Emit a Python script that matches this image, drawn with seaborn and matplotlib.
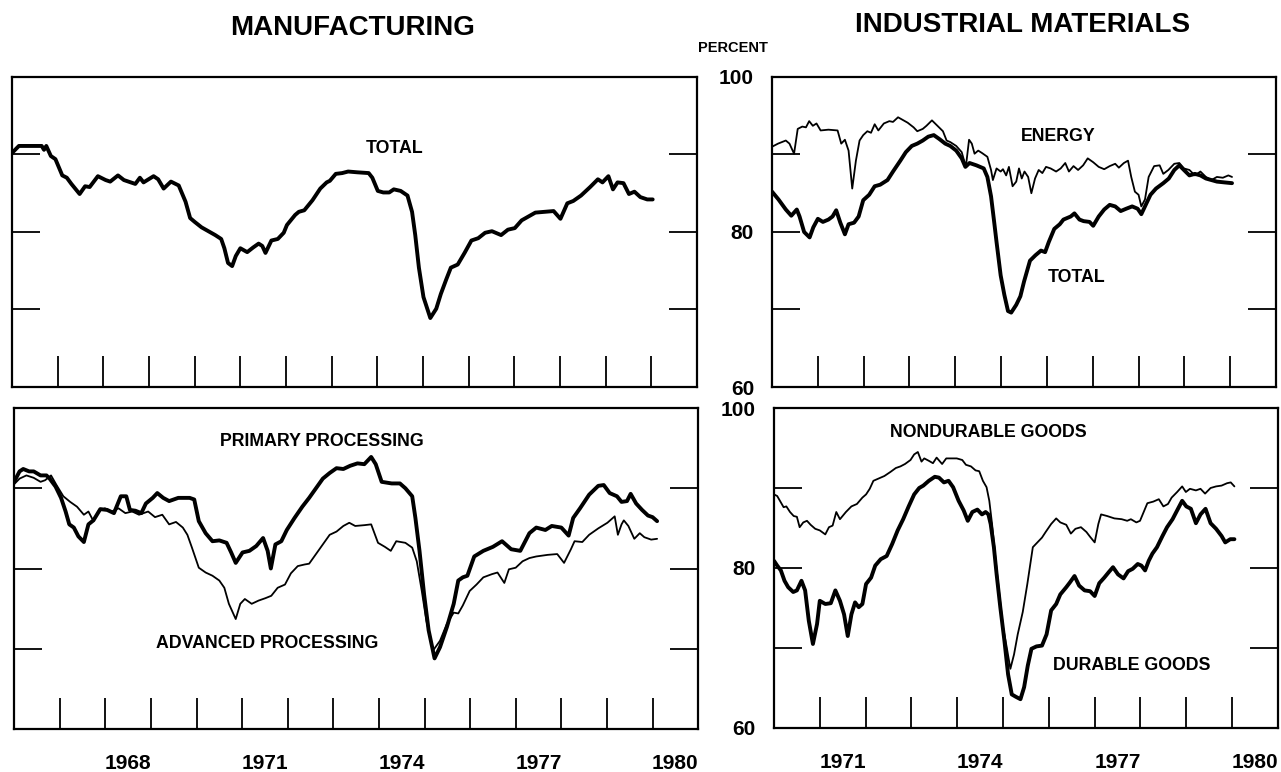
import matplotlib
matplotlib.use("Agg")
import matplotlib.pyplot as plt
import seaborn as sns
import pandas as pd

sns.set_style("ticks")
plt.rcParams["font.family"] = ["Liberation Sans", "DejaVu Sans"]
plt.rcParams["font.weight"] = "bold"
plt.rcParams["text.color"] = "black"
plt.rcParams["xtick.color"] = "black"
plt.rcParams["ytick.color"] = "black"
plt.rcParams["axes.edgecolor"] = "black"

# capacity utilization, percent (year, value)
mfg_total = [
    (1966.00, 90.2), (1966.15, 91.1), (1966.30, 91.1), (1966.65, 91.1), (1966.70, 90.6),
    (1966.75, 91.1), (1966.85, 89.8), (1966.95, 89.4), (1967.10, 87.3), (1967.20, 87.0),
    (1967.30, 86.2), (1967.48, 84.9), (1967.60, 85.9), (1967.70, 85.8), (1967.88, 87.2),
    (1968.05, 86.7), (1968.15, 86.5), (1968.32, 87.3), (1968.45, 86.7), (1968.60, 86.4),
    (1968.70, 86.2), (1968.80, 87.0), (1968.88, 86.4), (1969.10, 87.2), (1969.20, 86.8),
    (1969.32, 85.6), (1969.48, 86.5), (1969.65, 86.0), (1969.80, 83.9), (1969.90, 81.8),
    (1970.00, 81.3), (1970.15, 80.6), (1970.30, 80.1), (1970.45, 79.6), (1970.58, 79.1),
    (1970.65, 77.9), (1970.73, 76.0), (1970.82, 75.6), (1970.90, 76.9), (1971.00, 77.9),
    (1971.15, 77.4), (1971.28, 78.0), (1971.40, 78.5), (1971.48, 78.2), (1971.55, 77.3),
    (1971.68, 78.9), (1971.82, 79.1), (1971.95, 79.9), (1972.02, 80.9), (1972.20, 82.2),
    (1972.28, 82.6), (1972.40, 82.8), (1972.58, 84.1), (1972.75, 85.6), (1972.89, 86.4),
    (1972.96, 86.6), (1973.09, 87.5), (1973.23, 87.6), (1973.36, 87.8), (1973.56, 87.7),
    (1973.81, 87.6), (1973.89, 87.0), (1974.01, 85.3), (1974.13, 85.1), (1974.26, 85.1),
    (1974.36, 85.5), (1974.51, 85.3), (1974.66, 84.7), (1974.76, 82.6), (1974.83, 79.6),
    (1974.91, 75.4), (1975.01, 71.6), (1975.16, 68.9), (1975.29, 70.1), (1975.39, 72.0),
    (1975.51, 73.9), (1975.61, 75.4), (1975.76, 75.8), (1975.91, 77.3), (1976.06, 78.9),
    (1976.21, 79.2), (1976.36, 79.9), (1976.51, 80.1), (1976.71, 79.6), (1976.86, 80.3),
    (1977.01, 80.5), (1977.16, 81.5), (1977.31, 82.0), (1977.46, 82.5), (1977.66, 82.6),
    (1977.86, 82.7), (1978.01, 81.7), (1978.16, 83.7), (1978.29, 84.0), (1978.46, 84.7),
    (1978.66, 85.8), (1978.83, 86.8), (1978.93, 86.4), (1979.06, 87.2), (1979.16, 85.5),
    (1979.26, 86.4), (1979.39, 86.3), (1979.51, 84.9), (1979.63, 85.2), (1979.76, 84.5),
    (1979.91, 84.2), (1980.03, 84.2),
]

mfg_primary = [
    (1966.00, 90.8), (1966.12, 92.1), (1966.20, 92.4), (1966.33, 92.1), (1966.43, 92.1),
    (1966.58, 91.6), (1966.71, 91.6), (1966.78, 91.2), (1966.91, 90.2), (1967.03, 88.8),
    (1967.13, 87.1), (1967.21, 85.5), (1967.31, 85.1), (1967.41, 84.0), (1967.53, 83.3),
    (1967.63, 85.5), (1967.74, 86.0), (1967.89, 87.4), (1968.04, 87.3), (1968.19, 86.9),
    (1968.34, 89.0), (1968.46, 89.0), (1968.54, 87.3), (1968.66, 87.2), (1968.79, 86.9),
    (1968.89, 88.1), (1969.04, 88.8), (1969.14, 89.4), (1969.27, 88.8), (1969.40, 88.4),
    (1969.60, 88.8), (1969.85, 88.8), (1969.95, 88.6), (1970.05, 85.9), (1970.20, 84.4),
    (1970.35, 83.4), (1970.50, 83.5), (1970.66, 83.2), (1970.76, 82.0), (1970.86, 80.7),
    (1971.01, 82.0), (1971.16, 82.2), (1971.31, 82.8), (1971.46, 83.8), (1971.56, 82.2),
    (1971.63, 80.0), (1971.73, 83.0), (1971.86, 83.4), (1971.98, 84.8), (1972.15, 86.3),
    (1972.32, 87.7), (1972.47, 88.8), (1972.62, 90.0), (1972.77, 91.2), (1972.92, 91.9),
    (1973.07, 92.5), (1973.22, 92.4), (1973.37, 92.8), (1973.53, 93.1), (1973.68, 93.0),
    (1973.83, 93.9), (1973.93, 93.0), (1974.06, 90.8), (1974.28, 90.6), (1974.46, 90.6),
    (1974.58, 90.0), (1974.73, 89.0), (1974.80, 86.3), (1974.89, 82.2), (1974.99, 76.8),
    (1975.09, 72.3), (1975.22, 68.8), (1975.34, 70.2), (1975.49, 72.7), (1975.64, 75.6),
    (1975.74, 78.5), (1975.84, 78.9), (1975.94, 79.1), (1976.09, 81.5), (1976.29, 82.2),
    (1976.50, 82.7), (1976.70, 83.4), (1976.90, 82.4), (1977.10, 82.2), (1977.30, 84.4),
    (1977.45, 85.1), (1977.65, 84.8), (1977.79, 85.3), (1978.00, 85.1), (1978.16, 84.1),
    (1978.26, 86.3), (1978.41, 87.5), (1978.61, 89.2), (1978.81, 90.3), (1978.93, 90.4),
    (1979.06, 89.4), (1979.22, 89.0), (1979.32, 88.3), (1979.44, 88.4), (1979.52, 89.3),
    (1979.64, 88.1), (1979.77, 87.3), (1979.90, 86.6), (1980.00, 86.4), (1980.10, 85.9),
]

mfg_advanced = [
    (1966.00, 90.5), (1966.12, 91.2), (1966.27, 91.6), (1966.43, 91.3), (1966.58, 90.8),
    (1966.68, 91.0), (1966.81, 91.6), (1966.93, 90.4), (1967.08, 89.0), (1967.23, 88.3),
    (1967.38, 87.7), (1967.53, 86.7), (1967.63, 87.1), (1967.74, 85.9), (1967.84, 87.1),
    (1967.99, 87.5), (1968.14, 87.1), (1968.29, 87.5), (1968.44, 86.9), (1968.59, 87.1),
    (1968.74, 86.7), (1968.94, 87.1), (1969.09, 86.4), (1969.25, 86.7), (1969.40, 85.5),
    (1969.55, 85.8), (1969.70, 85.1), (1969.80, 84.2), (1969.90, 82.6), (1970.05, 80.1),
    (1970.20, 79.5), (1970.35, 79.1), (1970.50, 78.5), (1970.61, 77.6), (1970.71, 75.6),
    (1970.86, 73.7), (1970.96, 75.6), (1971.06, 76.2), (1971.21, 75.6), (1971.36, 76.0),
    (1971.51, 76.3), (1971.64, 76.6), (1971.78, 77.6), (1971.94, 78.0), (1972.07, 79.4),
    (1972.22, 80.3), (1972.37, 80.5), (1972.47, 80.6), (1972.62, 81.8), (1972.77, 83.0),
    (1972.92, 84.2), (1973.07, 84.6), (1973.22, 85.3), (1973.35, 85.7), (1973.48, 85.3),
    (1973.68, 85.4), (1973.83, 85.5), (1973.98, 83.2), (1974.13, 82.7), (1974.26, 82.2),
    (1974.38, 83.4), (1974.58, 83.2), (1974.73, 82.6), (1974.83, 80.9), (1974.94, 77.2),
    (1975.04, 73.5), (1975.19, 69.8), (1975.34, 71.0), (1975.49, 73.1), (1975.64, 74.5),
    (1975.74, 74.4), (1975.84, 75.4), (1975.99, 77.2), (1976.14, 78.0), (1976.29, 78.9),
    (1976.48, 79.3), (1976.60, 79.5), (1976.75, 78.2), (1976.85, 79.9), (1977.00, 80.1),
    (1977.15, 80.9), (1977.30, 81.3), (1977.45, 81.5), (1977.70, 81.7), (1977.91, 81.8),
    (1978.06, 80.7), (1978.21, 82.4), (1978.29, 83.4), (1978.46, 83.3), (1978.61, 84.2),
    (1978.81, 85.0), (1979.01, 85.7), (1979.17, 86.5), (1979.24, 84.2), (1979.32, 85.5),
    (1979.37, 86.0), (1979.47, 85.3), (1979.60, 83.7), (1979.72, 84.4), (1979.82, 83.9),
    (1979.97, 83.6), (1980.10, 83.7),
]

mat_total = [
    (1970.00, 85.2), (1970.14, 84.2), (1970.30, 82.9), (1970.42, 82.1), (1970.54, 82.9),
    (1970.60, 82.0), (1970.70, 80.0), (1970.82, 79.3), (1970.90, 80.6), (1971.00, 81.7),
    (1971.11, 81.3), (1971.23, 81.6), (1971.32, 82.0), (1971.40, 82.8), (1971.49, 81.2),
    (1971.59, 79.7), (1971.67, 81.0), (1971.79, 81.2), (1971.89, 82.0), (1971.99, 84.1),
    (1972.12, 84.8), (1972.24, 85.9), (1972.36, 86.1), (1972.52, 86.7), (1972.64, 87.8),
    (1972.80, 89.2), (1972.92, 90.3), (1973.05, 91.1), (1973.17, 91.4), (1973.29, 91.8),
    (1973.41, 92.3), (1973.53, 92.5), (1973.65, 92.0), (1973.78, 91.4), (1973.89, 91.1),
    (1974.02, 90.5), (1974.14, 89.5), (1974.22, 88.4), (1974.31, 88.9), (1974.46, 88.6),
    (1974.62, 88.2), (1974.70, 87.1), (1974.78, 84.6), (1974.85, 81.2), (1974.90, 78.7),
    (1974.99, 74.4), (1975.07, 71.9), (1975.15, 69.8), (1975.22, 69.6), (1975.33, 70.6),
    (1975.42, 71.7), (1975.50, 73.6), (1975.63, 76.3), (1975.75, 77.0), (1975.87, 77.6),
    (1975.96, 77.4), (1976.04, 78.7), (1976.16, 80.4), (1976.28, 81.0), (1976.36, 81.6),
    (1976.52, 82.0), (1976.60, 82.4), (1976.71, 81.6), (1976.80, 81.4), (1976.93, 81.3),
    (1977.01, 80.8), (1977.13, 82.0), (1977.25, 82.9), (1977.37, 83.5), (1977.49, 83.3),
    (1977.61, 82.7), (1977.73, 83.0), (1977.86, 83.3), (1977.98, 83.0), (1978.06, 82.3),
    (1978.14, 83.3), (1978.26, 84.8), (1978.38, 85.6), (1978.54, 86.3), (1978.66, 86.9),
    (1978.78, 88.0), (1978.89, 88.6), (1978.99, 88.0), (1979.11, 87.3), (1979.23, 87.5),
    (1979.35, 87.3), (1979.47, 86.9), (1979.59, 86.7), (1979.71, 86.5), (1979.87, 86.4),
    (1980.04, 86.3),
]

mat_energy = [
    (1970.00, 91.0), (1970.13, 91.4), (1970.30, 91.8), (1970.38, 91.4), (1970.48, 90.1),
    (1970.56, 93.3), (1970.66, 93.6), (1970.74, 93.5), (1970.81, 94.3), (1970.89, 93.7),
    (1970.97, 94.0), (1971.06, 93.1), (1971.23, 93.2), (1971.43, 93.1), (1971.51, 91.4),
    (1971.59, 91.9), (1971.67, 90.5), (1971.75, 85.6), (1971.83, 89.2), (1971.91, 91.8),
    (1971.99, 92.5), (1972.08, 93.0), (1972.16, 92.8), (1972.24, 93.9), (1972.32, 93.1),
    (1972.44, 94.0), (1972.56, 94.3), (1972.64, 94.2), (1972.75, 94.8), (1972.84, 94.5),
    (1972.96, 94.1), (1973.09, 93.5), (1973.17, 93.0), (1973.29, 93.3), (1973.37, 93.7),
    (1973.49, 94.4), (1973.61, 93.7), (1973.73, 93.0), (1973.81, 91.8), (1973.89, 91.6),
    (1974.02, 91.1), (1974.14, 90.3), (1974.23, 88.4), (1974.30, 91.9), (1974.36, 91.4),
    (1974.42, 90.1), (1974.50, 90.5), (1974.58, 90.2), (1974.70, 89.7), (1974.78, 88.0),
    (1974.82, 86.7), (1974.90, 88.2), (1974.99, 87.8), (1975.04, 88.1), (1975.11, 87.3),
    (1975.17, 88.4), (1975.25, 85.9), (1975.33, 86.5), (1975.39, 88.2), (1975.45, 86.9),
    (1975.51, 87.8), (1975.59, 87.1), (1975.66, 85.0), (1975.74, 86.9), (1975.82, 88.0),
    (1975.90, 87.6), (1975.98, 88.4), (1976.08, 88.2), (1976.20, 87.8), (1976.30, 88.2),
    (1976.40, 88.9), (1976.48, 87.8), (1976.58, 88.5), (1976.68, 88.0), (1976.79, 88.6),
    (1976.89, 89.5), (1977.01, 89.0), (1977.13, 88.4), (1977.25, 88.1), (1977.37, 88.5),
    (1977.49, 88.8), (1977.57, 88.3), (1977.68, 88.9), (1977.77, 89.2), (1977.84, 87.1),
    (1977.92, 85.2), (1978.00, 84.8), (1978.06, 83.3), (1978.14, 84.2), (1978.22, 87.1),
    (1978.34, 88.5), (1978.46, 88.6), (1978.54, 87.5), (1978.65, 88.0), (1978.78, 88.8),
    (1978.89, 88.9), (1978.99, 88.2), (1979.11, 88.0), (1979.23, 87.3), (1979.35, 87.8),
    (1979.47, 87.1), (1979.59, 86.7), (1979.71, 87.1), (1979.84, 87.0), (1979.96, 87.3),
    (1980.04, 87.1),
]

mat_nondurable = [
    (1970.00, 89.2), (1970.07, 89.0), (1970.15, 88.2), (1970.21, 87.6), (1970.27, 87.7),
    (1970.35, 87.0), (1970.43, 86.5), (1970.50, 86.4), (1970.56, 85.1), (1970.64, 85.7),
    (1970.72, 85.9), (1970.80, 85.4), (1970.90, 84.9), (1971.00, 84.7), (1971.12, 84.2),
    (1971.20, 85.1), (1971.28, 85.3), (1971.36, 87.0), (1971.44, 86.1), (1971.57, 87.0),
    (1971.69, 87.7), (1971.81, 88.0), (1971.93, 88.8), (1972.01, 89.2), (1972.09, 89.9),
    (1972.17, 90.9), (1972.29, 91.2), (1972.41, 91.5), (1972.54, 92.0), (1972.66, 92.5),
    (1972.76, 92.7), (1972.86, 93.0), (1972.98, 93.5), (1973.06, 94.2), (1973.14, 94.5),
    (1973.22, 93.3), (1973.28, 93.7), (1973.38, 93.4), (1973.47, 93.1), (1973.55, 93.8),
    (1973.67, 93.0), (1973.76, 93.7), (1973.87, 93.7), (1973.99, 93.7), (1974.11, 93.5),
    (1974.19, 92.9), (1974.30, 92.7), (1974.40, 92.2), (1974.48, 92.1), (1974.56, 90.9),
    (1974.64, 90.1), (1974.70, 88.4), (1974.76, 85.5), (1974.84, 80.9), (1974.92, 76.7),
    (1975.00, 72.6), (1975.08, 70.1), (1975.16, 67.4), (1975.24, 69.2), (1975.32, 71.7),
    (1975.43, 74.5), (1975.53, 78.0), (1975.65, 82.6), (1975.75, 83.2), (1975.85, 83.8),
    (1975.93, 84.5), (1976.05, 85.5), (1976.16, 86.2), (1976.25, 85.7), (1976.38, 85.4),
    (1976.48, 84.3), (1976.58, 84.9), (1976.70, 85.1), (1976.82, 84.5), (1976.90, 83.9),
    (1977.00, 83.2), (1977.08, 85.5), (1977.14, 86.7), (1977.27, 86.5), (1977.43, 86.2),
    (1977.59, 86.1), (1977.71, 85.9), (1977.79, 86.1), (1977.91, 85.7), (1977.99, 85.9),
    (1978.07, 87.0), (1978.15, 88.1), (1978.28, 88.3), (1978.40, 88.6), (1978.50, 87.7),
    (1978.60, 88.0), (1978.68, 88.8), (1978.80, 89.5), (1978.91, 90.2), (1978.99, 89.5),
    (1979.08, 89.9), (1979.21, 89.7), (1979.31, 89.9), (1979.41, 89.3), (1979.53, 90.0),
    (1979.65, 90.2), (1979.77, 90.3), (1979.89, 90.6), (1979.97, 90.7), (1980.05, 90.2),
]

mat_durable = [
    (1970.00, 80.9), (1970.07, 80.3), (1970.15, 79.7), (1970.23, 78.4), (1970.31, 77.6),
    (1970.42, 77.0), (1970.50, 77.2), (1970.60, 78.4), (1970.68, 77.2), (1970.76, 73.4),
    (1970.85, 70.5), (1970.94, 73.0), (1971.00, 75.9), (1971.12, 75.5), (1971.24, 75.6),
    (1971.34, 77.2), (1971.44, 75.9), (1971.53, 74.2), (1971.61, 71.5), (1971.69, 74.2),
    (1971.77, 75.7), (1971.85, 75.1), (1971.93, 75.5), (1972.01, 78.0), (1972.12, 78.8),
    (1972.21, 80.3), (1972.33, 81.1), (1972.46, 81.5), (1972.58, 83.0), (1972.70, 84.7),
    (1972.82, 86.1), (1972.94, 87.7), (1973.06, 89.2), (1973.17, 90.0), (1973.26, 90.3),
    (1973.38, 90.9), (1973.51, 91.4), (1973.60, 91.3), (1973.71, 90.7), (1973.81, 90.9),
    (1973.91, 90.1), (1974.03, 88.4), (1974.14, 87.2), (1974.23, 85.9), (1974.33, 87.0),
    (1974.44, 87.3), (1974.54, 86.7), (1974.62, 87.0), (1974.68, 86.7), (1974.73, 85.5),
    (1974.80, 82.6), (1974.86, 79.2), (1974.94, 75.1), (1975.03, 70.9), (1975.11, 66.7),
    (1975.19, 64.2), (1975.28, 63.9), (1975.38, 63.6), (1975.46, 65.1), (1975.54, 67.8),
    (1975.62, 69.9), (1975.73, 70.2), (1975.85, 70.3), (1975.95, 71.7), (1976.05, 74.7),
    (1976.16, 75.5), (1976.25, 76.7), (1976.38, 77.6), (1976.46, 78.2), (1976.56, 79.0),
    (1976.66, 77.8), (1976.78, 77.2), (1976.90, 77.1), (1977.00, 76.5), (1977.10, 78.1),
    (1977.21, 78.8), (1977.31, 79.5), (1977.40, 80.1), (1977.51, 79.2), (1977.63, 78.7),
    (1977.73, 79.6), (1977.83, 79.9), (1977.94, 80.5), (1978.02, 80.3), (1978.10, 79.7),
    (1978.18, 80.9), (1978.26, 81.8), (1978.36, 82.6), (1978.48, 84.0), (1978.58, 85.1),
    (1978.70, 86.1), (1978.80, 87.2), (1978.91, 88.4), (1979.00, 87.7), (1979.10, 87.4),
    (1979.21, 85.6), (1979.31, 86.7), (1979.42, 87.4), (1979.53, 85.6), (1979.65, 84.9),
    (1979.77, 84.0), (1979.85, 83.2), (1979.96, 83.6), (1980.05, 83.6),
]

left_year_labels = ["1968", "1971", "1974", "1977", "1980"]
right_year_labels = ["1971", "1974", "1977", "1980"]
pct_labels = ["60", "", "80", "", "100"]

################################################################################

fig = plt.figure(figsize=(12.81, 7.72), dpi=100)


def panel(rect, start, end, year_labels, show_pct):
    ax = fig.add_axes(rect)
    ax.set_xlim(start, end)
    ax.set_ylim(60, 100)
    ax.set_xticks(range(start + 1, end))
    ax.set_xticklabels([])
    ax.tick_params(axis="x", which="major", direction="in", length=22, width=1.3,
                   bottom=True, top=False)
    if year_labels:
        ax.set_xticks([int(y) + 0.5 for y in year_labels], minor=True)
        ax.set_xticklabels(year_labels, minor=True)
        ax.tick_params(axis="x", which="minor", length=0, pad=18, labelsize=15)
    ax.set_yticks([60, 70, 80, 90, 100])
    ax.set_yticklabels(pct_labels if show_pct else [""] * 5)
    ax.tick_params(axis="y", direction="in", length=20, width=1.3, left=True,
                   right=True, labelsize=15, pad=13)
    for s in ax.spines.values():
        s.set_linewidth(1.6)
        s.set_color("black")
    return ax


def draw(ax, series, lw):
    df = pd.DataFrame(series, columns=["year", "pct"])
    sns.lineplot(data=df, x="year", y="pct", ax=ax, color="black", linewidth=lw,
                 estimator=None, legend=False)
    ax.set_xlabel("")
    ax.set_ylabel("")


THICK, THIN = 2.8, 1.3
lab = dict(ha="center", va="center", fontsize=12.8, fontweight="bold", color="black")

ax = panel([0.0094, 0.4987, 0.5347, 0.4016], 1966, 1981, None, False)
draw(ax, mfg_total, THICK)
ax.text(1974.38, 90.8, "TOTAL", **lab)

ax = panel([0.011, 0.0557, 0.534, 0.4158], 1966, 1981, left_year_labels, False)
draw(ax, mfg_advanced, THIN)
draw(ax, mfg_primary, THICK)
ax.text(1972.75, 95.8, "PRIMARY PROCESSING", **lab)
ax.text(1971.55, 70.7, "ADVANCED PROCESSING", **lab)

ax = panel([0.6027, 0.4987, 0.3934, 0.4016], 1970, 1981, None, True)
draw(ax, mat_energy, THIN)
draw(ax, mat_total, THICK)
ax.text(1976.24, 92.3, "ENERGY", **lab)
ax.text(1976.64, 74.1, "TOTAL", **lab)

ax = panel([0.6042, 0.0570, 0.3934, 0.4145], 1970, 1981, right_year_labels, True)
draw(ax, mat_nondurable, THIN)
draw(ax, mat_durable, THICK)
ax.text(1974.67, 97.0, "NONDURABLE GOODS", **lab)
ax.text(1977.80, 67.75, "DURABLE GOODS", **lab)

fig.text(353 / 1281, 1 - 28 / 772, "MANUFACTURING", ha="center", va="center",
         fontsize=20, fontweight="bold")
fig.text(1023 / 1281, 1 - 25 / 772, "INDUSTRIAL MATERIALS", ha="center", va="center",
         fontsize=20, fontweight="bold")
fig.text(733 / 1281, 1 - 48 / 772, "PERCENT", ha="center", va="center",
         fontsize=10.5, fontweight="bold")

plt.savefig("out.png", dpi=100, facecolor="white")
